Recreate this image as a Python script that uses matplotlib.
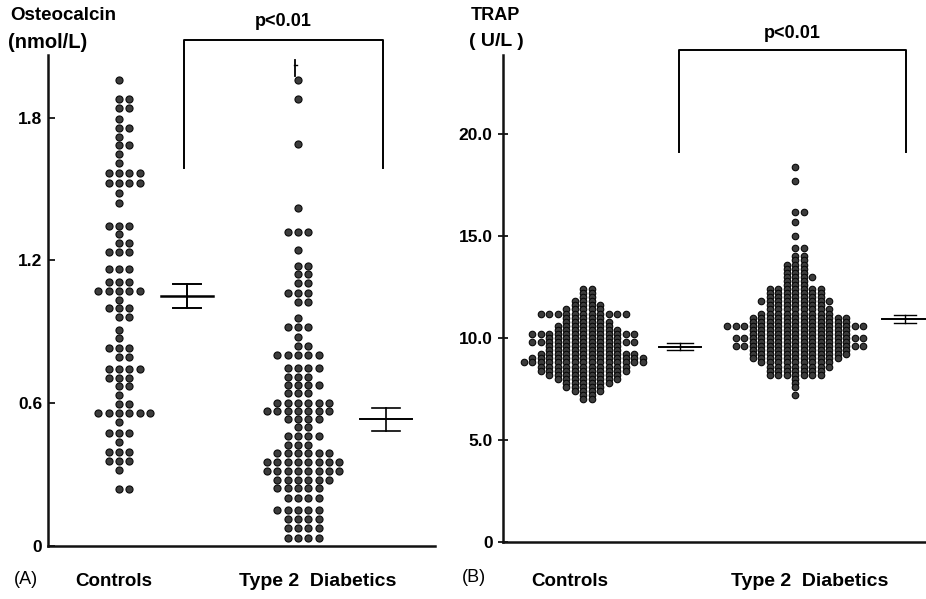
import matplotlib
matplotlib.use("Agg")
import matplotlib.pyplot as plt

plt.rcParams['font.family'] = ['Liberation Sans', 'DejaVu Sans']

# ---------------- Panel A : Osteocalcin (nmol/L) ----------------
ctrl_a_vals = [1.958, 1.877, 1.842, 1.795, 1.758, 1.720, 1.685, 1.647, 1.608, 1.566,
               1.527, 1.482, 1.440, 1.345, 1.311, 1.274, 1.237, 1.163, 1.111, 1.072,
               1.034, 0.999, 0.961, 0.908, 0.873, 0.831, 0.793, 0.742, 0.707, 0.672,
               0.634, 0.597, 0.560, 0.520, 0.476, 0.436, 0.396, 0.357, 0.319, 0.238]
ctrl_a_n = [1, 2, 2, 1, 2, 1, 2, 1, 1, 4,
            4, 1, 1, 3, 1, 2, 3, 3, 3, 5,
            1, 3, 2, 1, 1, 3, 2, 4, 3, 2,
            1, 2, 6, 1, 3, 1, 3, 3, 1, 2]
diab_a_vals = [1.958, 1.877, 1.689, 1.419, 1.321, 1.244, 1.176, 1.143, 1.105, 1.065,
               1.027, 0.957, 0.922, 0.880, 0.842, 0.803, 0.747, 0.711, 0.676, 0.642,
               0.602, 0.568, 0.534, 0.499, 0.462, 0.424, 0.389, 0.352, 0.315, 0.277,
               0.242, 0.200, 0.151, 0.112, 0.074, 0.032]
diab_a_n = [1, 1, 1, 1, 3, 1, 2, 2, 2, 3,
            2, 1, 3, 1, 2, 5, 4, 3, 4, 3,
            6, 7, 4, 2, 4, 3, 6, 8, 8, 6,
            5, 4, 5, 4, 4, 4]
a_means = [1.050, 0.532]
a_se = [0.052, 0.049]
a_yticks = [0.6, 1.2, 1.8]
a_yticklabels = ["0.6", "1.2", "1.8"]

# ---------------- Panel B : TRAP (U/L) ----------------
ctrl_b_vals = [12.4, 12.2, 12.0, 11.8, 11.6, 11.4, 11.2, 11.0, 10.8, 10.6,
               10.4, 10.2, 10.0, 9.8, 9.6, 9.4, 9.2, 9.0, 8.8, 8.6,
               8.4, 8.2, 8.0, 7.8, 7.6, 7.4, 7.2, 7.0]
ctrl_b_n = [2, 2, 2, 3, 4, 5, 11, 5, 6, 7,
            8, 13, 9, 13, 9, 9, 12, 14, 15, 11,
            11, 9, 8, 6, 5, 4, 2, 2]
diab_b_vals = [18.4, 17.7, 16.2, 15.7, 15.0, 14.4, 14.0, 13.8, 13.6, 13.4,
               13.2, 13.0, 12.8, 12.6, 12.4, 12.2, 12.0, 11.8, 11.6, 11.4,
               11.2, 11.0, 10.8, 10.6, 10.4, 10.2, 10.0, 9.8, 9.6, 9.4,
               9.2, 9.0, 8.8, 8.6, 8.4, 8.2, 8.0, 7.8, 7.6, 7.2]
diab_b_n = [1, 1, 2, 1, 1, 2, 2, 2, 3, 3,
            3, 4, 3, 3, 7, 7, 7, 9, 7, 8,
            9, 12, 12, 17, 12, 12, 16, 12, 16, 12,
            12, 11, 9, 8, 7, 7, 1, 1, 1, 1]
b_means = [9.57, 10.93]
b_se = [0.18, 0.19]
b_yticks = [0, 5, 10, 15, 20]
b_yticklabels = ["0", "5.0", "10.0", "15.0", "20.0"]

groups = ["Controls", "Type 2  Diabetics"]

# ---------------- figure ----------------
W, H = 926, 599
fig = plt.figure(figsize=(W / 100, H / 100), dpi=100)

def px_axes(l, t, r, b):
    return fig.add_axes([l / W, 1 - b / H, (r - l) / W, (b - t) / H])

axA = px_axes(48, 55, 435, 546)
axB = px_axes(503, 55, 940, 542)

FACE = "#3c3c3c"
EDGE = "#0a0a0a"

def dot_rows(ax, vals, counts, center, step, size):
    xs, ys = [], []
    for v, n in zip(vals, counts):
        for k in range(n):
            off = ((k + 1) // 2) * (1 if k % 2 == 1 else -1)
            xs.append(center + off * step)
            ys.append(v)
    ax.scatter(xs, ys, s=size, facecolor=FACE, edgecolor=EDGE, linewidths=0.8,
               zorder=3, clip_on=False)

def mean_bar(ax, x, m, se, half, cap, lw_main=1.6, lw=1.2):
    ax.plot([x - half, x + half], [m, m], color="black", lw=lw_main, zorder=4, clip_on=False)
    ax.plot([x, x], [m - se, m + se], color="black", lw=lw, zorder=4)
    ax.plot([x - cap, x + cap], [m + se, m + se], color="black", lw=lw, zorder=4)
    ax.plot([x - cap, x + cap], [m - se, m - se], color="black", lw=lw, zorder=4)

def style(ax):
    for s in ["top", "right"]:
        ax.spines[s].set_visible(False)
    for s in ["left", "bottom"]:
        ax.spines[s].set_linewidth(1.8)
        ax.spines[s].set_color("#111")
    ax.set_xticks([])
    ax.tick_params(axis="y", labelsize=12.5, width=1.2, length=5, pad=4)
    for lab in ax.get_yticklabels():
        lab.set_fontweight("bold")

# ---- Panel A ----
# x units: group 0 at 119 px, group 1 at 298 px (179 px per unit)
axA.set_xlim((48 - 119) / 179, (435 - 119) / 179)
axA.set_ylim(0, (546 - 55) / 238)
dot_rows(axA, ctrl_a_vals, ctrl_a_n, 0.0, 10.3 / 179, 26)
dot_rows(axA, diab_a_vals, diab_a_n, 1.0, 10.3 / 179, 26)
mean_bar(axA, 0.38, a_means[0], a_se[0], 0.145, 0.078, lw_main=1.8, lw=1.4)
mean_bar(axA, 1.49, a_means[1], a_se[1], 0.145, 0.078, lw_main=1.4, lw=1.2)
# off-scale marker above highest diabetic dot
axA.plot([0.985, 0.985], [1.975, 2.04], color="black", lw=1.3, zorder=4)
axA.plot([0.975, 0.995], [2.02, 2.02], color="black", lw=1.0, zorder=4)
axA.set_yticks([0] + a_yticks)
axA.set_yticklabels(["0"] + a_yticklabels)
style(axA)
axA.tick_params(axis="y", direction="in")
# significance bracket
xa0, xa1 = (184 - 119) / 179, (383 - 119) / 179
ya_top, ya_bot = (546 - 40) / 238, (546 - 168) / 238
axA.plot([xa0, xa0, xa1, xa1], [ya_bot, ya_top, ya_top, ya_bot], color="black",
         lw=1.4, clip_on=False)
axA.text((xa0 + xa1) / 2, (546 - 22) / 238, "p<0.01", ha="center", va="center",
         fontsize=13, fontweight="bold")

# ---- Panel B ----
# x units: group 0 at 583 px, group 1 at 795 px (212 px per unit)
axB.set_xlim((503 - 583) / 212, (940 - 583) / 212)
axB.set_ylim(0, (542 - 55) / 20.4)
dot_rows(axB, ctrl_b_vals, ctrl_b_n, 0.0, 8.5 / 212, 22)
dot_rows(axB, diab_b_vals, diab_b_n, 1.0, 8.5 / 212, 22)
mean_bar(axB, (680 - 583) / 212, b_means[0], b_se[0], 0.10, 0.06, lw_main=1.4, lw=1.0)
mean_bar(axB, (905 - 583) / 212, b_means[1], b_se[1], 0.11, 0.05, lw_main=1.4, lw=1.0)
axB.set_yticks(b_yticks)
axB.set_yticklabels(b_yticklabels)
style(axB)
axB.tick_params(axis="y", direction="inout", length=7)
xb0, xb1 = (679 - 583) / 212, (906 - 583) / 212
yb_top, yb_bot = (542 - 50) / 20.4, (542 - 152) / 20.4
axB.plot([xb0, xb0, xb1, xb1], [yb_bot, yb_top, yb_top, yb_bot], color="black",
         lw=1.4, clip_on=False)
axB.text((xb0 + xb1) / 2, (542 - 33) / 20.4, "p<0.01", ha="center", va="center",
         fontsize=13, fontweight="bold")

# ---- text labels ----
def ftext(x, y, s, **kw):
    fig.text(x / W, 1 - y / H, s, **kw)

ftext(10, 16, "Osteocalcin", ha="left", va="center", fontsize=13.5, fontweight="bold")
ftext(8, 43, "(nmol/L)", ha="left", va="center", fontsize=14.5, fontweight="bold")
ftext(471, 15, "TRAP", ha="left", va="center", fontsize=13, fontweight="bold")
ftext(469, 42, "( U/L )", ha="left", va="center", fontsize=14, fontweight="bold")

ftext(14, 579, "(A)", ha="left", va="center", fontsize=13)
ftext(114, 582, groups[0], ha="center", va="center", fontsize=13.5, fontweight="bold")
ftext(318, 582, groups[1], ha="center", va="center", fontsize=14, fontweight="bold")
ftext(462, 578, "(B)", ha="left", va="center", fontsize=13)
ftext(570, 582, groups[0], ha="center", va="center", fontsize=13.5, fontweight="bold")
ftext(810, 582, groups[1], ha="center", va="center", fontsize=14, fontweight="bold")

fig.savefig("out.png", dpi=100)
